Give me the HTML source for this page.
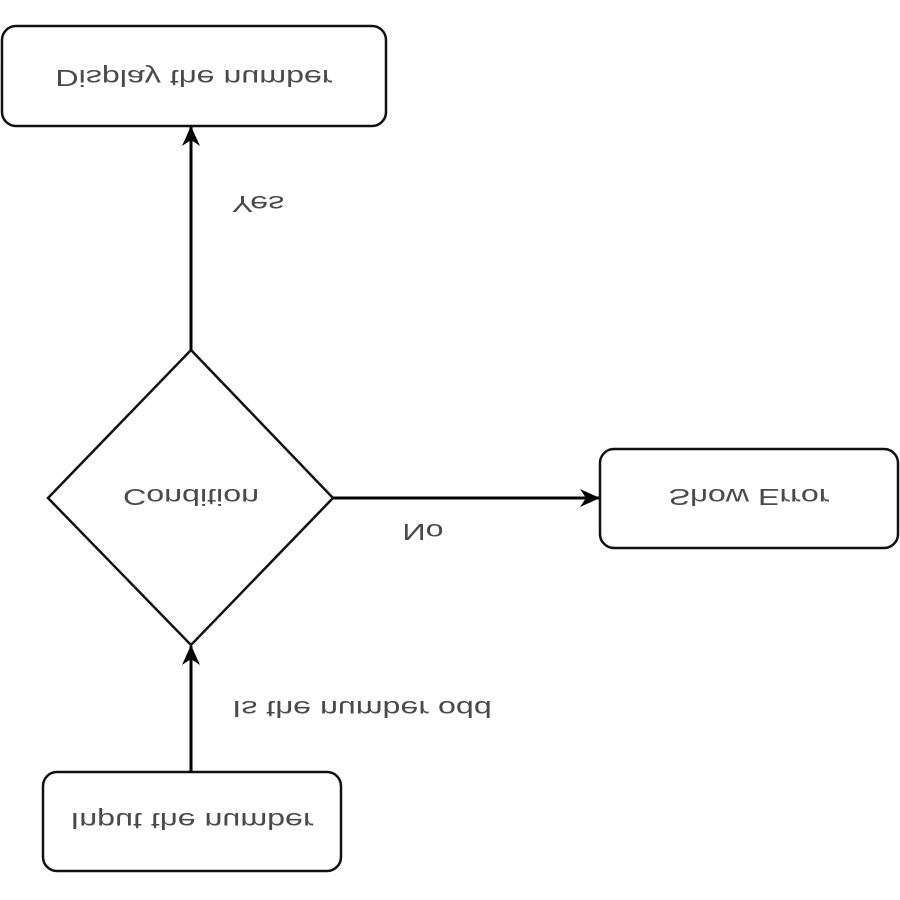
<!DOCTYPE html>
<html><head><meta charset="utf-8"><style>
html,body{margin:0;padding:0;background:#fff;width:900px;height:900px;overflow:hidden}
text{font-family:"Liberation Sans",Arial,sans-serif;font-size:23px;fill:#4a4a4a}
</style></head><body>
<svg width="900" height="900" viewBox="0 0 900 900" xmlns="http://www.w3.org/2000/svg">
<defs>
<marker id="b" markerWidth="20" markerHeight="18" refX="19" refY="9" orient="auto" markerUnits="userSpaceOnUse"><path d="M0,0 L20,9 L0,18 L6,9 Z" fill="#000"/></marker></defs>
<g fill="#fff" stroke="#111" stroke-width="2.5">
<rect x="2" y="26" width="384" height="100" rx="14"/>
<rect x="600" y="449" width="298" height="99" rx="14"/>
<rect x="43" y="772" width="298" height="99" rx="14"/>
<path d="M191,350 L333,498 L191,645 L48,498 Z"/>
</g>
<g stroke="#000" stroke-width="3" fill="none">
<line x1="191" y1="350" x2="191" y2="127" marker-end="url(#b)"/>
<line x1="191" y1="772" x2="191" y2="646" marker-end="url(#b)"/>
<line x1="333" y1="498" x2="599" y2="498" marker-end="url(#b)"/>
</g>
<g text-anchor="middle">
<text transform="translate(194,78) scale(1.4,-1)" dy="8">Display the number</text>
<text transform="translate(191,497) scale(1.4,-1)" dy="8">Condition</text>
<text transform="translate(749,497) scale(1.4,-1)" dy="8">Show Error</text>
<text transform="translate(192,821) scale(1.4,-1)" dy="8">Input the number</text>
<text transform="translate(258,204) scale(1.4,-1)" dy="8">Yes</text>
<text transform="translate(423,532) scale(1.4,-1)" dy="8">No</text>
<text transform="translate(362,709) scale(1.4,-1)" dy="8">Is the number odd</text>
</g>
</svg>
</body></html>
